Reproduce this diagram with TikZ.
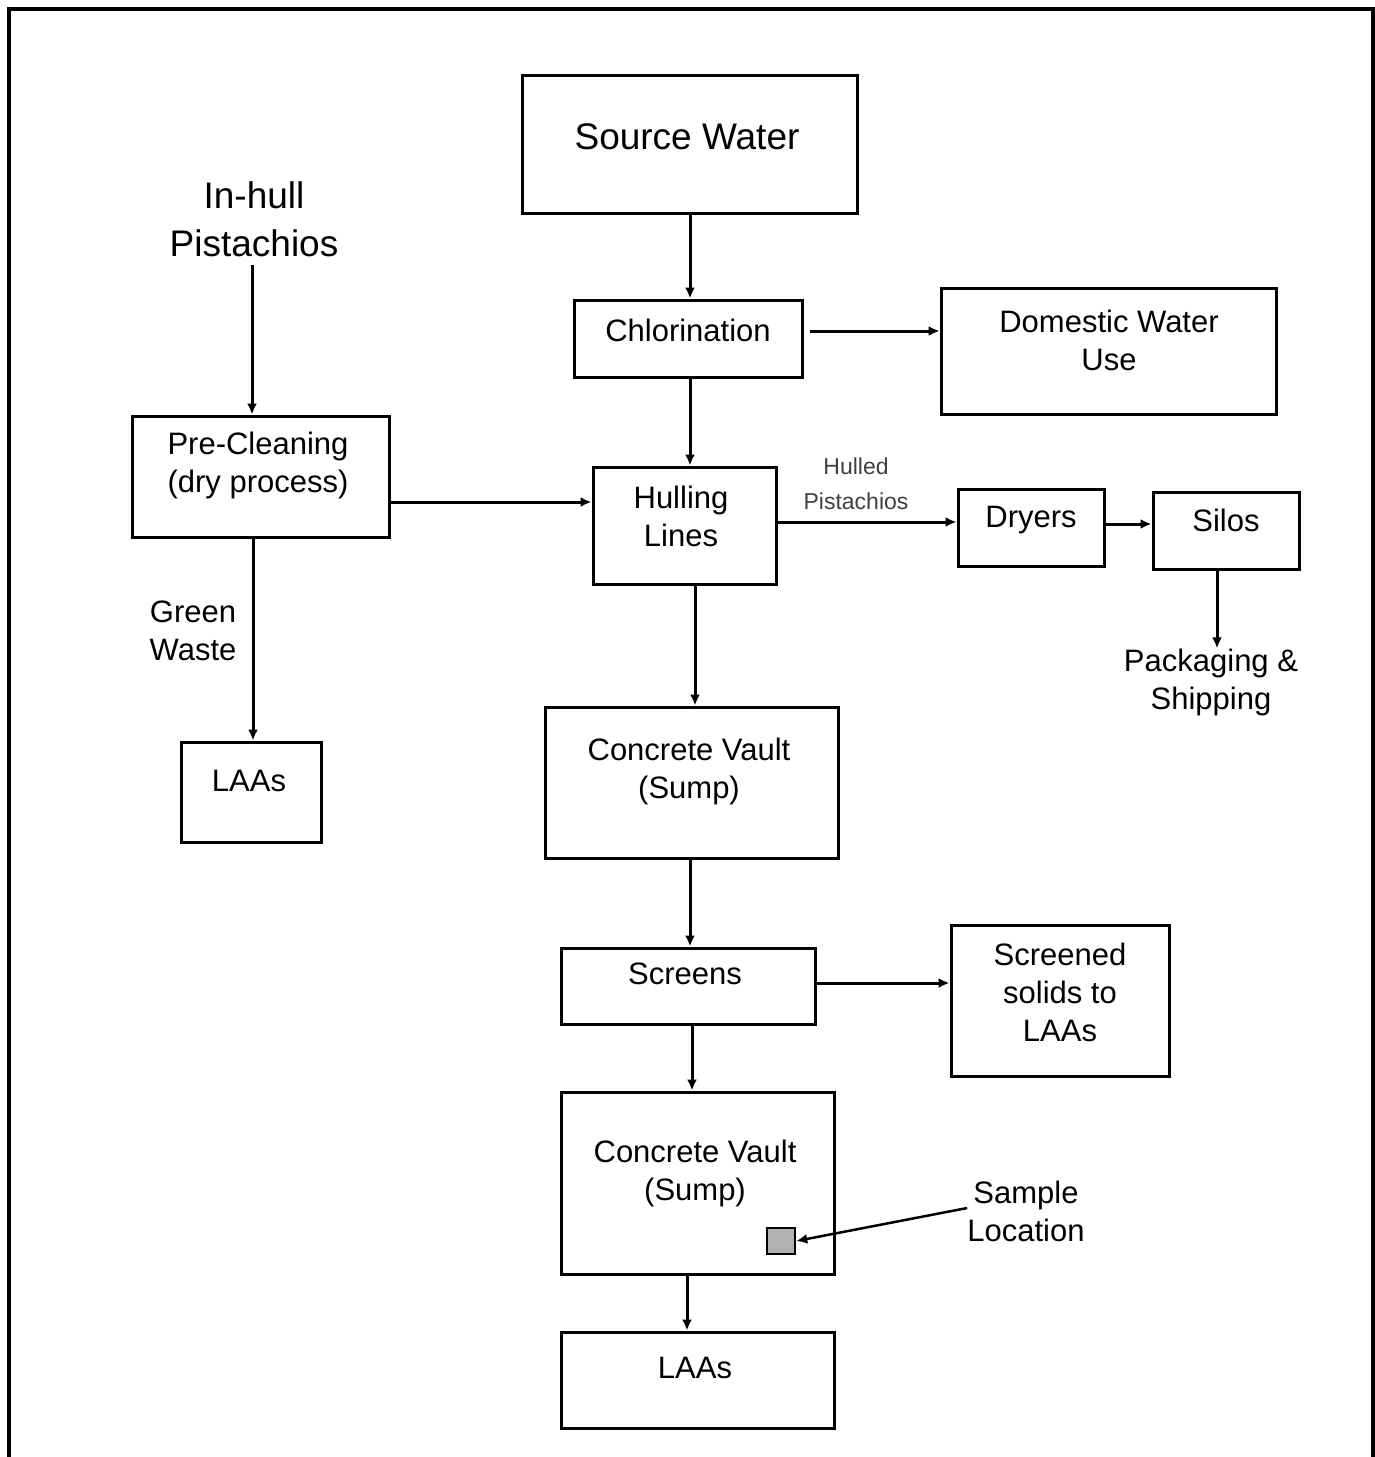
\documentclass[tikz,border=0pt]{standalone}
\usepackage{fontspec}
\setmainfont{Liberation Sans}
\usetikzlibrary{arrows.meta}
\begin{document}
\begin{tikzpicture}[x=1pt,y=-1pt,
  box/.style={draw,line width=3pt,inner sep=0pt,rectangle},
  txt/.style={font=\fontsize{31}{38}\selectfont,align=center,inner sep=0pt},
  bigtxt/.style={font=\fontsize{37}{48}\selectfont,align=center,inner sep=0pt},
  smalltxt/.style={font=\fontsize{23}{35}\selectfont,align=center,inner sep=0pt,text=black!75},
  arr/.style={line width=3pt,-{Latex[length=11pt,width=10pt]}}]
\useasboundingbox (0,0) rectangle (1375,1457);
% frame
\draw[line width=4pt] (9,1460) -- (9,8.5) -- (1372.5,8.5) -- (1372.5,1460);
% boxes
\node[box,minimum width=335pt,minimum height=138pt] (src) at (689.5,144) {};
\node[box,minimum width=228pt,minimum height=77pt] (chl) at (688,338.5) {};
\node[box,minimum width=335pt,minimum height=126pt] (dom) at (1108.5,351) {};
\node[box,minimum width=257pt,minimum height=121pt] (pre) at (260.5,476.5) {};
\node[box,minimum width=183pt,minimum height=117pt] (hul) at (684.5,525.5) {};
\node[box,minimum width=146pt,minimum height=77pt] (dry) at (1031,527.5) {};
\node[box,minimum width=146pt,minimum height=77pt] (sil) at (1226,530.5) {};
\node[box,minimum width=140pt,minimum height=100pt] (laa1) at (251,792) {};
\node[box,minimum width=293pt,minimum height=151pt] (v1) at (691.5,782.5) {};
\node[box,minimum width=254pt,minimum height=76pt] (scr) at (688,986) {};
\node[box,minimum width=218pt,minimum height=151pt] (sol) at (1060,1000.5) {};
\node[box,minimum width=273pt,minimum height=182pt] (v2) at (697.5,1183) {};
\node[box,minimum width=28pt,minimum height=26pt,fill=black!30,line width=2.5pt] (sq) at (781,1241) {};
\node[box,minimum width=273pt,minimum height=96pt] (laa2) at (697.5,1380) {};
% texts
\node[bigtxt] at (687,137) {Source Water};
\node[bigtxt] (inhull) at (254,219) {In-hull\\Pistachios};
\node[txt] at (688,330) {Chlorination};
\node[txt] at (1109,340) {Domestic Water\\Use};
\node[txt] at (258,465) {Pre-Cleaning\\(dry process)};
\node[txt] at (681,516) {Hulling\\Lines};
\node[smalltxt] at (856,484) {Hulled\\Pistachios};
\node[txt] at (1031,520) {Dryers};
\node[txt] at (1226,520) {Silos};
\node[txt] (pack) at (1211,682) {Packaging \&\\Shipping};
\node[txt] at (193,631) {Green\\Waste};
\node[txt] at (249,781) {LAAs};
\node[txt] at (689,771) {Concrete Vault\\(Sump)};
\node[txt] at (685,974) {Screens};
\node[txt] at (1060,992) {Screened\\solids to\\LAAs};
\node[txt] at (695,1173) {Concrete Vault\\(Sump)};
\node[txt] (sloc) at (1026,1211) {Sample\\Location};
\node[txt] at (695,1368) {LAAs};
% connectors
\draw[arr] (src.south -| 690,0) -- (chl.north -| 690,0);
\draw[arr,shorten <=6pt] (chl.east |- 0,331) -- (dom.west |- 0,331);
\draw[arr] (chl.south -| 690,0) -- (hul.north -| 690,0);
\draw[arr] (inhull.south -| 252,0) ++(0,8) -- (pre.north -| 252,0);
\draw[arr] (pre.east |- 0,502) -- (hul.west |- 0,502);
\draw[arr] (hul.east |- 0,522) -- (dry.west |- 0,522);
\draw[arr] (dry.east |- 0,524) -- (sil.west |- 0,524);
\draw[arr] (sil.south -| 1217,0) -- (pack.north -| 1217,0);
\draw[arr] (pre.south -| 253,0) -- (laa1.north -| 253,0);
\draw[arr] (hul.south -| 695,0) -- (v1.north -| 695,0);
\draw[arr] (v1.south -| 690,0) -- (scr.north -| 690,0);
\draw[arr] (scr.east |- 0,983) -- (sol.west |- 0,983);
\draw[arr] (scr.south -| 692,0) -- (v2.north -| 692,0);
\draw[arr] (v2.south -| 687,0) -- (laa2.north -| 687,0);
\draw[arr,line width=2.5pt] (sloc.west |- 0,1208) -- (sq.east);
\end{tikzpicture}
\end{document}
